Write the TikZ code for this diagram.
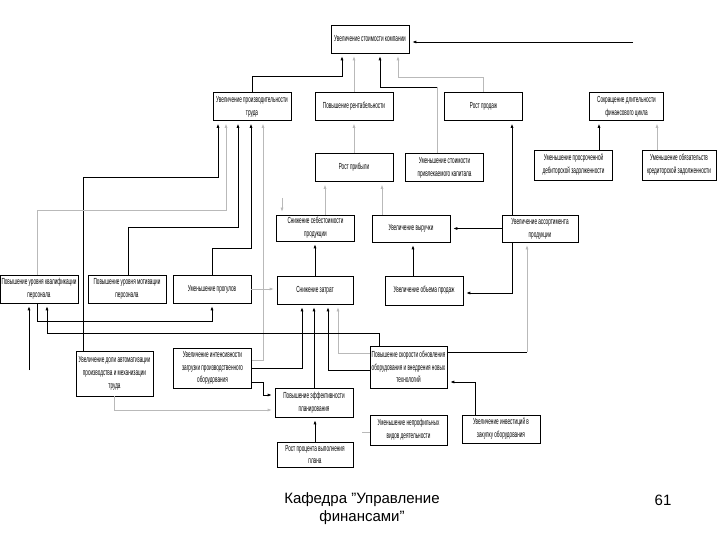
\documentclass[tikz,border=0pt]{standalone}
\usepackage{fontspec}
\setmainfont{Liberation Sans}
\newfontfamily\boxfont[FakeStretch=0.53]{Liberation Sans}
\usetikzlibrary{arrows.meta,positioning}

\begin{document}
\begin{tikzpicture}[
    x=1pt, y=-1pt,
    box/.style={draw, line width=0.6pt, align=center, inner sep=1pt, minimum width=78pt, minimum height=28pt, font=\boxfont\fontsize{8.8}{12.8}\selectfont},
    tall/.style={box, minimum height=42pt},
    link/.style={line width=0.7pt},
    faint/.style={line width=0.6pt, draw=gray!55},
    arrow/.style={-{Latex[length=4pt,width=3pt]}, line width=0.7pt, shorten >=3pt},
    back/.style={{Latex[length=4pt,width=3pt]}-, line width=0.7pt, shorten <=3pt}
  ]
    \useasboundingbox (0,0) rectangle (720,540);

    % upper levels
    \node[box] (top) at (370,39) {Увеличение стоимости компании};
    \node[box] (trud) at (252,106.5) {Увеличение производительности\\труда};
    \node[box] (rent) at (354,106.5) {Повышение рентабельности};
    \node[box] (prodazh) at (483.5,106.5) {Рост продаж};
    \node[box, minimum width=74pt] (fincycle) at (626.5,106.5) {Сокращение длительности\\финансового цикла};
    \node[box] (pribyl) at (354,167.5) {Рост прибыли};
    \node[box] (kapital) at (444.5,167.5) {Уменьшение стоимости\\привлекаемого капитала};
    \node[box, minimum height=30pt] (debitor) at (573.5,165) {Уменьшение просроченной\\дебиторской задолженности};
    \node[box, minimum width=74pt, minimum height=30pt] (kreditor) at (679,165) {Уменьшение обязательств\\кредиторской задолженности};
    \node[box, minimum height=26pt] (sebest) at (315.5,228) {Снижение себестоимости\\продукции};
    \node[box, minimum height=27pt] (vyruchka) at (411,228.5) {Увеличение выручки};
    \node[box, minimum width=76pt, minimum height=27pt] (assort) at (540,228.5) {Увеличение ассортимента\\продукции};

    % factors
    \node[box] (kvalif) at (39,289) {Повышение уровня квалификации\\персонала};
    \node[box] (motiv) at (127,289) {Повышение уровня мотивации\\персонала};
    \node[box] (progul) at (212,289) {Уменьшение прогулов};
    \node[box, minimum width=76pt] (zatraty) at (315,290) {Снижение затрат};
    \node[box, minimum height=29pt] (obem) at (424,290.5) {Увеличение объема продаж};
    \node[tall, minimum width=77pt, minimum height=45pt] (avtomat) at (114.5,373.5) {Увеличение доли автоматизации\\производства и механизации\\труда};
    \node[tall, minimum height=40pt] (intens) at (212.5,368) {Увеличение интенсивности\\загрузки производственного\\оборудования};
    \node[tall, minimum width=77pt] (skorost) at (408.5,367) {Повышение скорости обновления\\оборудования и внедрения новых\\технологий};
    \node[box, minimum height=29pt] (plan) at (314,402.5) {Повышение эффективности\\планирования};
    \node[box, minimum width=77pt, minimum height=30pt] (neprof) at (408.5,430) {Уменьшение непрофильных\\видов деятельности};
    \node[box] (invest) at (501,429) {Увеличение инвестиций в\\закупку оборудования};
    \node[box, minimum width=76pt, minimum height=25pt] (procent) at (315,454.5) {Рост процента выполнения\\плана};

    % free ends
    \coordinate (rtop) at (633,42);
    \coordinate (abovesebest) at (282,198);
    \coordinate (kvalifin) at (29,370);
    \coordinate (neprofstub) at (362,432);

    % links to the top
    \draw[arrow] (rtop) -- (rtop -| top.east);
    \draw[arrow] (trud.north) -- (trud.north |- 0,76) -| (top.south -| 342,0);
    \draw[arrow, faint] (rent.north) -- (top.south -| rent.north);
    \draw[faint] (kapital.north -| 437,0) -- (437,87);
    \draw[arrow] (437,87) -| (top.south -| 380,0);
    \draw[arrow, faint] (prodazh.north) -- (prodazh.north |- 0,77) -| (top.south -| 398,0);
    \draw[arrow] (debitor.north -| 599,0) -- (fincycle.south -| 599,0);
    \draw[arrow, faint] (kreditor.north -| 657,0) -- (fincycle.south -| 657,0);

    % middle
    \draw[arrow] (assort.north -| 512,0) -- (prodazh.south -| 512,0);
    \draw[arrow] (assort.west) -- (vyruchka.east);
    \draw[arrow] (assort.south -| 512,0) |- (obem.east |- 0,293);
    \draw[link] (skorost.east |- 0,352) -- (527,352);
    \draw[arrow, faint] (527,352) -- (assort.south -| 527,0);
    \draw[arrow, faint] (abovesebest) -- (sebest.north -| 282,0);
    \draw[arrow, faint] (sebest.north -| 325,0) -- (pribyl.south -| 325,0);
    \draw[arrow, faint] (vyruchka.north -| 382,0) -- (pribyl.south -| 382,0);
    \draw[arrow, faint] (pribyl.north) -- (rent.south);
    \draw[arrow] (zatraty.north) -- (sebest.south -| zatraty.north);
    \draw[arrow] (obem.north -| 413,0) -- (vyruchka.south -| 413,0);

    % into productivity
    \draw[back] (trud.south -| 218,0) -- (218,177) -| (avtomat.north -| 83,0);
    \draw[back, faint] (trud.south -| 226,0) -- (226,210) -| (kvalif.north -| 37,0);
    \draw[back] (trud.south -| 238,0) -- (238,227) -| (motiv.north -| 128,0);
    \draw[back] (trud.south -| 251,0) -- (251,248) -| (progul.north);
    \draw[back, faint] (trud.south -| 263,0) |- (intens.east |- 0,360);

    % lower part
    \draw[arrow] (intens.east) -| (zatraty.south -| 302,0);
    \draw[arrow] (intens.east |- 0,382) -- (263,382) |- (plan.west |- 0,395);
    \draw[arrow, faint] (avtomat.south) |- (plan.west |- 0,410);
    \draw[arrow, faint] (progul.east) -- (progul.east -| zatraty.west);
    \draw[arrow] (plan.north) -- (zatraty.south -| plan.north);
    \draw[arrow] (skorost.west |- 0,370) -| (zatraty.south -| 328,0);
    \draw[arrow, faint] (skorost.west |- 0,353) -| (zatraty.south -| 338,0);
    \draw[arrow] (skorost.north -| 379,0) -- (379,333) -| (kvalif.south -| 47,0);
    \draw[arrow] (kvalif.south -| 37,0) -- (37,321) -| (progul.south);
    \draw[arrow] (kvalifin) -- (kvalif.south -| 29,0);
    \draw[arrow] (invest.north -| 475,0) |- (skorost.east |- 0,382);
    \draw[arrow] (procent.north) -- (plan.south -| procent.north);
    \draw[faint] (neprofstub) -- (neprofstub -| neprof.west);

    % footer
    \node[font=\fontsize{15}{18}\selectfont, align=center] (dept) at (362,509) {Кафедра "Управление\\финансами"};
    \node[font=\fontsize{15}{18}\selectfont] (pagenum) at (663,500) {61};
  \end{tikzpicture}
\end{document}
